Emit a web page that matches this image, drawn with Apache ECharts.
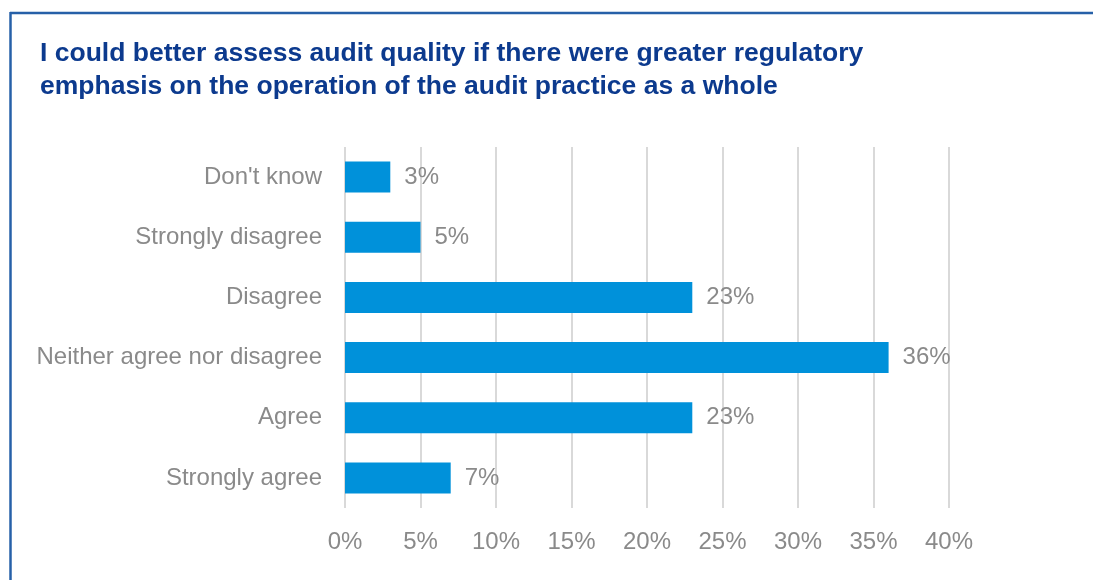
<!DOCTYPE html>
<html>
<head>
<meta charset="utf-8">
<script src="https://cdn.jsdelivr.net/npm/echarts@6/dist/echarts.min.js"></script>
<style>
  html, body { margin: 0; padding: 0; background: #fff; }
  #chart { width: 1093px; height: 580px; }
</style>
</head>
<body>
<div id="chart"></div>
<script>
// Survey responses, listed top to bottom
const categories = [
  "Don't know",
  'Strongly disagree',
  'Disagree',
  'Neither agree nor disagree',
  'Agree',
  'Strongly agree'
];
const shares = [3, 5, 23, 36, 23, 7];
const tickValues = [0, 5, 10, 15, 20, 25, 30, 35, 40];

const titleLines = [
  'I could better assess audit quality if there were greater regulatory',
  'emphasis on the operation of the audit practice as a whole'
];

const chart = echarts.init(document.getElementById('chart'), null, { renderer: 'canvas' });

const labelFont = 'Liberation Sans, Arial, sans-serif';
const grey = '#8a8a8a';

chart.setOption({
  animation: false,
  backgroundColor: '#ffffff',
  title: {
    text: titleLines.join('\n'),
    left: 35,
    top: 32,
    textStyle: {
      fontFamily: labelFont,
      fontWeight: 'bold',
      fontSize: 26.5,
      lineHeight: 33,
      color: '#0c3a8e'
    }
  },
  graphic: [
    {
      type: 'line',
      shape: { x1: 10, y1: 13, x2: 1093, y2: 13 },
      style: { stroke: '#2660a8', lineWidth: 2.5 }
    },
    {
      type: 'line',
      shape: { x1: 10.5, y1: 12, x2: 10.5, y2: 580 },
      style: { stroke: '#2660a8', lineWidth: 2.5 }
    }
  ],
  grid: { left: 345, right: 144, top: 147, bottom: 72, containLabel: false },
  xAxis: {
    type: 'value',
    min: tickValues[0],
    max: tickValues[tickValues.length - 1],
    interval: 5,
    axisLine: { show: false },
    axisTick: { show: false },
    splitLine: { show: true, lineStyle: { color: '#d9d9d9', width: 2 } },
    axisLabel: {
      margin: 22,
      fontFamily: labelFont,
      fontSize: 24,
      color: grey,
      formatter: '{value}%'
    }
  },
  yAxis: {
    type: 'category',
    data: categories,
    inverse: true,
    axisLine: { show: false },
    axisTick: { show: false },
    axisLabel: {
      margin: 23,
      fontFamily: labelFont,
      fontSize: 24,
      color: grey
    }
  },
  series: [{
    type: 'bar',
    data: shares,
    barWidth: 31,
    itemStyle: { color: '#0091da' },
    label: {
      show: true,
      position: 'right',
      distance: 14,
      fontFamily: labelFont,
      fontSize: 24,
      color: grey,
      formatter: '{c}%'
    }
  }]
});
</script>
</body>
</html>
